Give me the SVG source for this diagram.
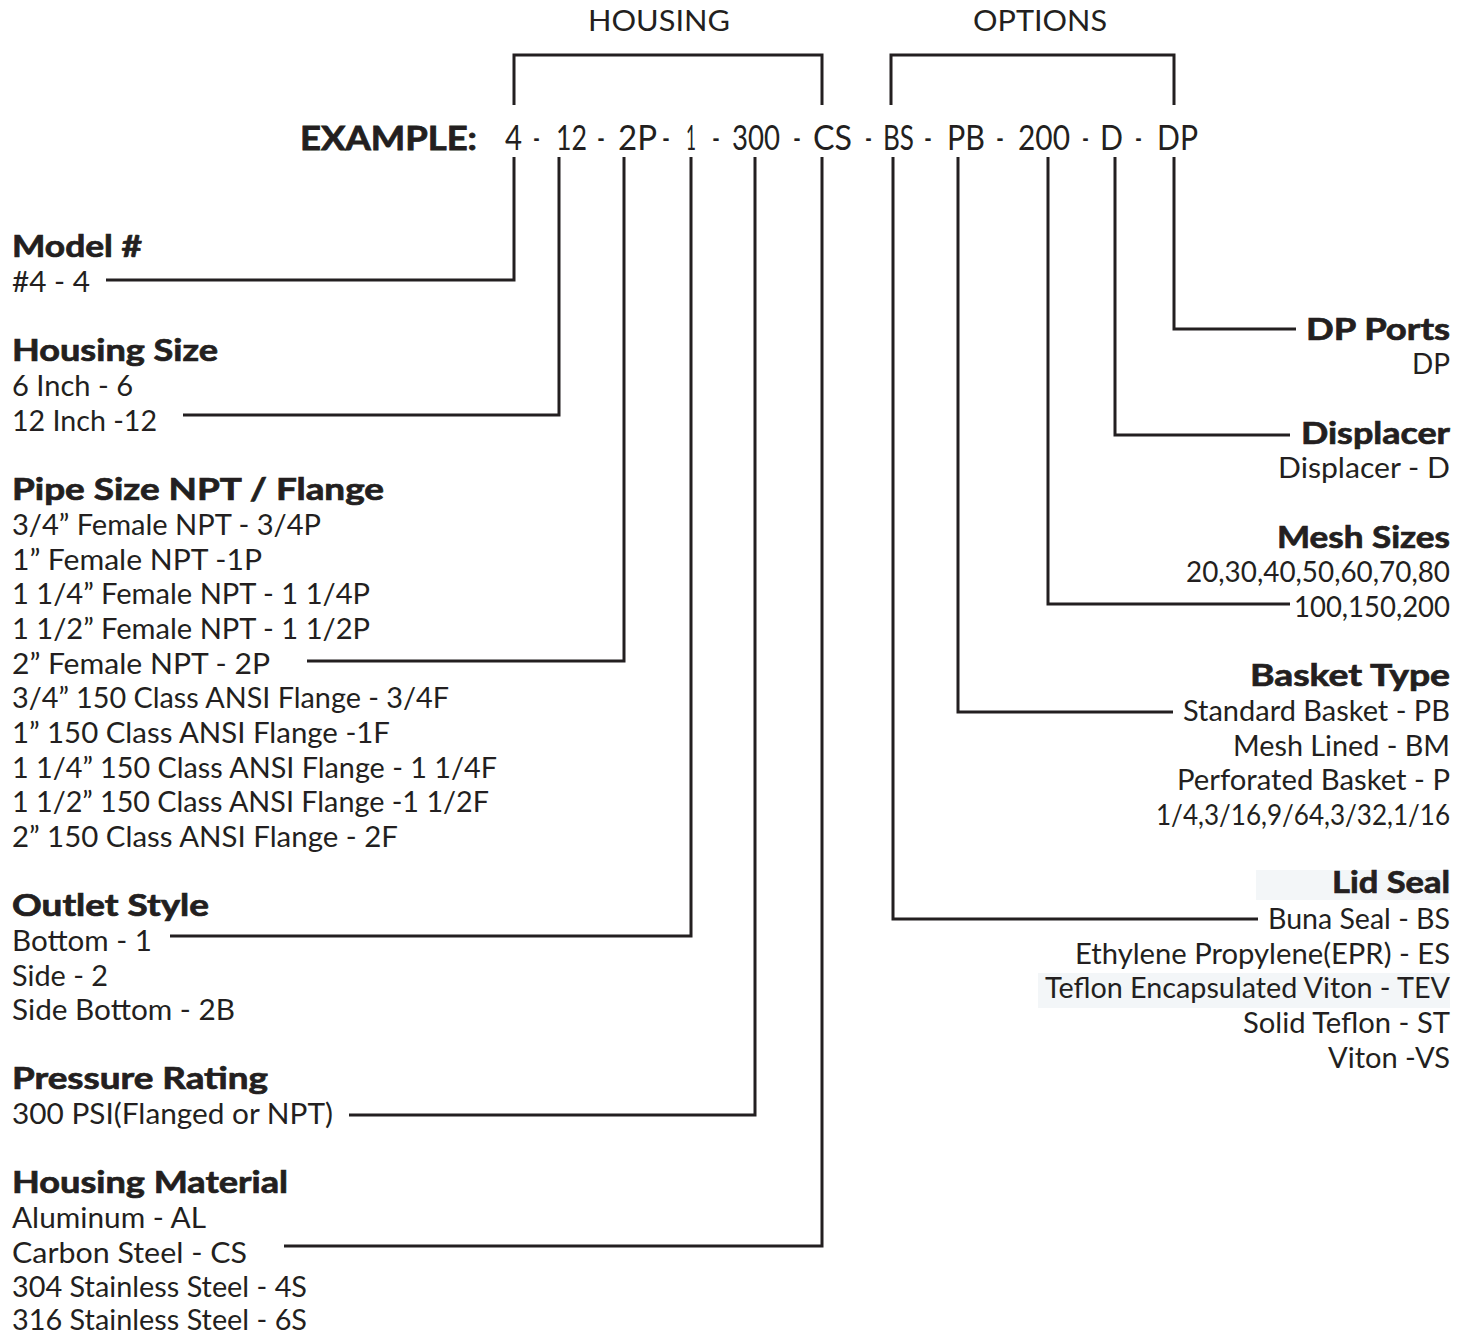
<svg xmlns="http://www.w3.org/2000/svg" width="1470" height="1335" viewBox="0 0 1470 1335">
<style>
text{font-family:Lato,"Open Sans","Liberation Sans",sans-serif;fill:#231f20}
.r{font-size:29px;font-weight:400}
.b{font-size:30px;font-weight:700;stroke:#231f20;stroke-width:0.7}
.h{font-size:29px;font-weight:400}
.c{font-size:35px;font-weight:400}
.e{font-size:33px;font-weight:700;stroke:#231f20;stroke-width:0.8}
.ln{fill:none;stroke:#231f20;stroke-width:3}
.bg{fill:#f3f6f8}
</style>
<rect width="1470" height="1335" fill="#ffffff"/>
<g id="backgrounds">
<rect class="bg" x="1256" y="870" width="194" height="30"/>
<rect class="bg" x="1038" y="973" width="412" height="35"/>
</g>
<g id="header">
<text class="h" x="588" y="31" textLength="142" lengthAdjust="spacingAndGlyphs">HOUSING</text>
<text class="h" x="973" y="31" textLength="134" lengthAdjust="spacingAndGlyphs">OPTIONS</text>
<text class="e" x="300" y="150" textLength="177" lengthAdjust="spacingAndGlyphs">EXAMPLE:</text>
<text class="c" y="150"><tspan x="505" textLength="17" lengthAdjust="spacingAndGlyphs">4</tspan><tspan x="533" textLength="7" lengthAdjust="spacingAndGlyphs">-</tspan><tspan x="556" textLength="31" lengthAdjust="spacingAndGlyphs">12</tspan><tspan x="597" textLength="8" lengthAdjust="spacingAndGlyphs">-</tspan><tspan x="618" textLength="39" lengthAdjust="spacingAndGlyphs">2P</tspan><tspan x="662" textLength="8" lengthAdjust="spacingAndGlyphs">-</tspan><tspan x="686" textLength="10" lengthAdjust="spacingAndGlyphs">1</tspan><tspan x="712" textLength="8" lengthAdjust="spacingAndGlyphs">-</tspan><tspan x="732" textLength="48" lengthAdjust="spacingAndGlyphs">300</tspan><tspan x="793" textLength="8" lengthAdjust="spacingAndGlyphs">-</tspan><tspan x="813" textLength="39" lengthAdjust="spacingAndGlyphs">CS</tspan><tspan x="865" textLength="7" lengthAdjust="spacingAndGlyphs">-</tspan><tspan x="883" textLength="31" lengthAdjust="spacingAndGlyphs">BS</tspan><tspan x="924" textLength="8" lengthAdjust="spacingAndGlyphs">-</tspan><tspan x="947" textLength="38" lengthAdjust="spacingAndGlyphs">PB</tspan><tspan x="996" textLength="8" lengthAdjust="spacingAndGlyphs">-</tspan><tspan x="1018" textLength="52" lengthAdjust="spacingAndGlyphs">200</tspan><tspan x="1082" textLength="7" lengthAdjust="spacingAndGlyphs">-</tspan><tspan x="1100" textLength="23" lengthAdjust="spacingAndGlyphs">D</tspan><tspan x="1135" textLength="7" lengthAdjust="spacingAndGlyphs">-</tspan><tspan x="1157" textLength="41" lengthAdjust="spacingAndGlyphs">DP</tspan></text>
</g>
<g id="connectors">
<path class="ln" d="M514 105V55H822V105"/>
<path class="ln" d="M891 105V55H1174V105"/>
<path class="ln" d="M514 157V280H106"/>
<path class="ln" d="M559 157V415H183"/>
<path class="ln" d="M624 157V661H307"/>
<path class="ln" d="M691 157V936H170"/>
<path class="ln" d="M755 157V1115H349"/>
<path class="ln" d="M822 157V1246H284"/>
<path class="ln" d="M893 157V919H1258"/>
<path class="ln" d="M958 157V712H1173"/>
<path class="ln" d="M1048 157V604H1290"/>
<path class="ln" d="M1115 157V435H1290"/>
<path class="ln" d="M1174 157V329H1296"/>
</g>
<g id="model">
<text class="b" x="12" y="257" textLength="130" lengthAdjust="spacingAndGlyphs">Model #</text>
<text class="r" x="12" y="292" textLength="78" lengthAdjust="spacingAndGlyphs">#4 - 4</text>
</g>
<g id="housing-size">
<text class="b" x="12" y="361" textLength="206" lengthAdjust="spacingAndGlyphs">Housing Size</text>
<text class="r" x="12" y="396" textLength="121" lengthAdjust="spacingAndGlyphs">6 Inch - 6</text>
<text class="r" x="12" y="431" textLength="145" lengthAdjust="spacingAndGlyphs">12 Inch -12</text>
</g>
<g id="pipe-size">
<text class="b" x="12" y="500" textLength="372" lengthAdjust="spacingAndGlyphs">Pipe Size NPT / Flange</text>
<text class="r" x="12" y="535" textLength="309" lengthAdjust="spacingAndGlyphs">3/4” Female NPT - 3/4P</text>
<text class="r" x="12" y="570" textLength="250" lengthAdjust="spacingAndGlyphs">1” Female NPT -1P</text>
<text class="r" x="12" y="604" textLength="358" lengthAdjust="spacingAndGlyphs">1 1/4” Female NPT - 1 1/4P</text>
<text class="r" x="12" y="639" textLength="358" lengthAdjust="spacingAndGlyphs">1 1/2” Female NPT - 1 1/2P</text>
<text class="r" x="12" y="674" textLength="258" lengthAdjust="spacingAndGlyphs">2” Female NPT - 2P</text>
<text class="r" x="12" y="708" textLength="437" lengthAdjust="spacingAndGlyphs">3/4” 150 Class ANSI Flange - 3/4F</text>
<text class="r" x="12" y="743" textLength="378" lengthAdjust="spacingAndGlyphs">1” 150 Class ANSI Flange -1F</text>
<text class="r" x="12" y="778" textLength="485" lengthAdjust="spacingAndGlyphs">1 1/4” 150 Class ANSI Flange - 1 1/4F</text>
<text class="r" x="12" y="812" textLength="477" lengthAdjust="spacingAndGlyphs">1 1/2” 150 Class ANSI Flange -1 1/2F</text>
<text class="r" x="12" y="847" textLength="386" lengthAdjust="spacingAndGlyphs">2” 150 Class ANSI Flange - 2F</text>
</g>
<g id="outlet-style">
<text class="b" x="12" y="916" textLength="197" lengthAdjust="spacingAndGlyphs">Outlet Style</text>
<text class="r" x="12" y="951" textLength="140" lengthAdjust="spacingAndGlyphs">Bottom - 1</text>
<text class="r" x="12" y="986" textLength="96" lengthAdjust="spacingAndGlyphs">Side - 2</text>
<text class="r" x="12" y="1020" textLength="223" lengthAdjust="spacingAndGlyphs">Side Bottom - 2B</text>
</g>
<g id="pressure-rating">
<text class="b" x="12" y="1089" textLength="256" lengthAdjust="spacingAndGlyphs">Pressure Rating</text>
<text class="r" x="12" y="1124" textLength="321" lengthAdjust="spacingAndGlyphs">300 PSI(Flanged or NPT)</text>
</g>
<g id="housing-material">
<text class="b" x="12" y="1193" textLength="276" lengthAdjust="spacingAndGlyphs">Housing Material</text>
<text class="r" x="12" y="1228" textLength="194" lengthAdjust="spacingAndGlyphs">Aluminum - AL</text>
<text class="r" x="12" y="1263" textLength="235" lengthAdjust="spacingAndGlyphs">Carbon Steel - CS</text>
<text class="r" x="12" y="1297" textLength="295" lengthAdjust="spacingAndGlyphs">304 Stainless Steel - 4S</text>
<text class="r" x="12" y="1330" textLength="295" lengthAdjust="spacingAndGlyphs">316 Stainless Steel - 6S</text>
</g>
<g id="dp-ports">
<text class="b" x="1306" y="340" textLength="144" lengthAdjust="spacingAndGlyphs">DP Ports</text>
<text class="r" x="1412" y="374" textLength="38" lengthAdjust="spacingAndGlyphs">DP</text>
</g>
<g id="displacer">
<text class="b" x="1301" y="444" textLength="149" lengthAdjust="spacingAndGlyphs">Displacer</text>
<text class="r" x="1278" y="478" textLength="172" lengthAdjust="spacingAndGlyphs">Displacer - D</text>
</g>
<g id="mesh-sizes">
<text class="b" x="1277" y="548" textLength="173" lengthAdjust="spacingAndGlyphs">Mesh Sizes</text>
<text class="r" x="1186" y="582" textLength="264" lengthAdjust="spacingAndGlyphs">20,30,40,50,60,70,80</text>
<text class="r" x="1294" y="617" textLength="156" lengthAdjust="spacingAndGlyphs">100,150,200</text>
</g>
<g id="basket-type">
<text class="b" x="1250" y="686" textLength="200" lengthAdjust="spacingAndGlyphs">Basket Type</text>
<text class="r" x="1183" y="721" textLength="267" lengthAdjust="spacingAndGlyphs">Standard Basket - PB</text>
<text class="r" x="1233" y="756" textLength="217" lengthAdjust="spacingAndGlyphs">Mesh Lined - BM</text>
<text class="r" x="1177" y="790" textLength="273" lengthAdjust="spacingAndGlyphs">Perforated Basket - P</text>
<text class="r" x="1156" y="825" textLength="294" lengthAdjust="spacingAndGlyphs">1/4,3/16,9/64,3/32,1/16</text>
</g>
<g id="lid-seal">
<text class="b" x="1332" y="893" textLength="118" lengthAdjust="spacingAndGlyphs">Lid Seal</text>
<text class="r" x="1268" y="929" textLength="182" lengthAdjust="spacingAndGlyphs">Buna Seal - BS</text>
<text class="r" x="1075" y="964" textLength="375" lengthAdjust="spacingAndGlyphs">Ethylene Propylene(EPR) - ES</text>
<text class="r" x="1045" y="998" textLength="405" lengthAdjust="spacingAndGlyphs">Teflon Encapsulated Viton - TEV</text>
<text class="r" x="1243" y="1033" textLength="207" lengthAdjust="spacingAndGlyphs">Solid Teflon - ST</text>
<text class="r" x="1328" y="1068" textLength="122" lengthAdjust="spacingAndGlyphs">Viton -VS</text>
</g>
</svg>
